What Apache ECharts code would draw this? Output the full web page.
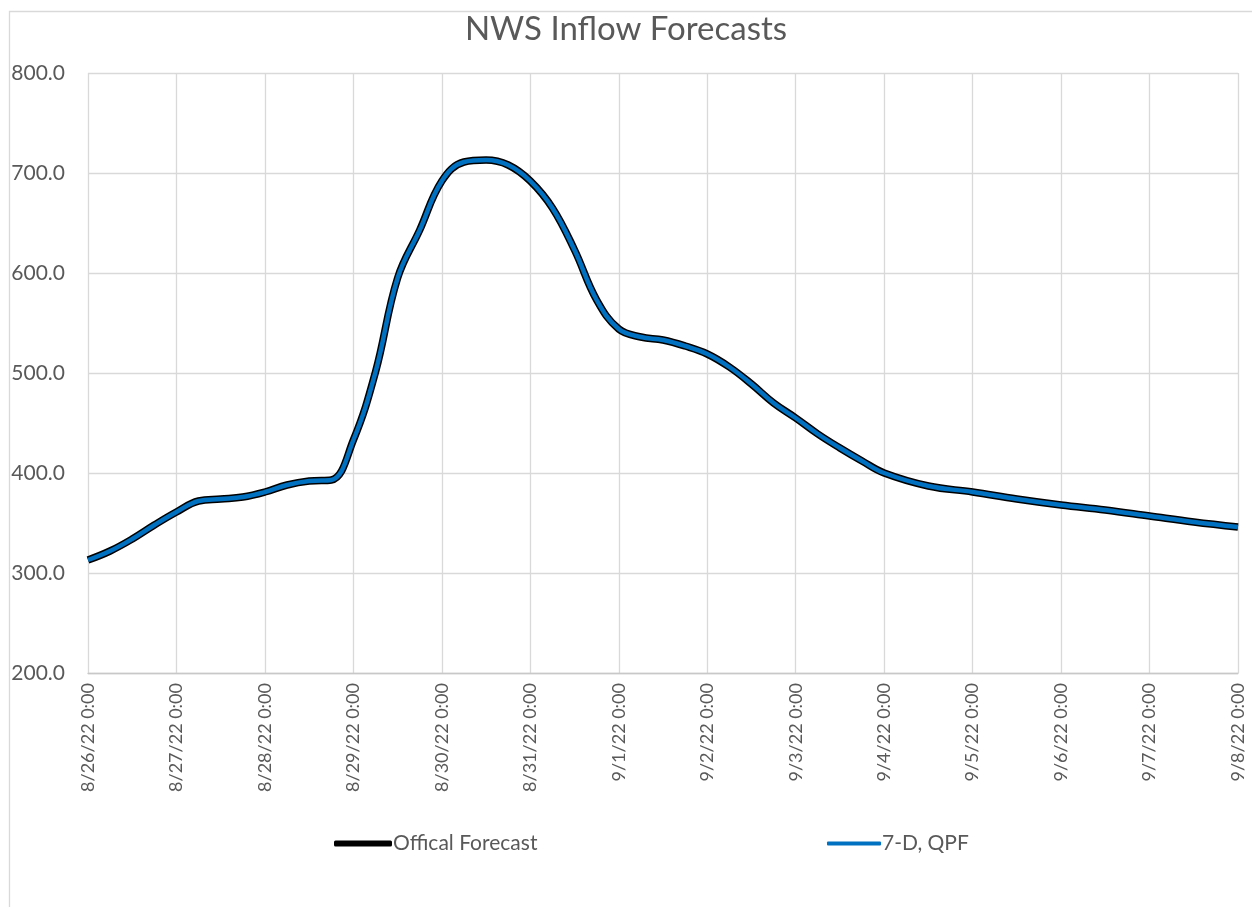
<!DOCTYPE html>
<html>
<head>
<meta charset="utf-8">
<script src="https://cdn.jsdelivr.net/npm/echarts@6/dist/echarts.min.js"></script>
<style>
html,body{margin:0;padding:0;background:#fff;}
#chart{width:1252px;height:907px;}
</style>
</head>
<body>
<div id="chart"></div>
<script>
// Tick labels (one per day, every 24 hours from 8/26/22 0:00)
const dayLabels = ['8/26/22 0:00','8/27/22 0:00','8/28/22 0:00','8/29/22 0:00','8/30/22 0:00','8/31/22 0:00','9/1/22 0:00','9/2/22 0:00','9/3/22 0:00','9/4/22 0:00','9/5/22 0:00','9/6/22 0:00','9/7/22 0:00','9/8/22 0:00'];
// Hours since 8/26/22 0:00
const hours = [0,6,12,18,24,30,36,42,48,54,60,66,72,78,84,90,96,102,108,114,120,126,132,138,144,150,156,162,168,174,180,186,192,198,204,210,216,228,240,252,264,276,288,300,312];
// Inflow values
const official = [313,322,334,348,361,372,374,376,381,388,392,393,433,501,595,643,692,711,713,708,692,665,623,573,544,536,533,527,519,506,489,470,455,439,425,412,400,387,381,374,368,363,357,351,346];
const qpf7d = [313,322,334,348,361,372,374,376,381,388,392,393,433,501,595,643,692,711,713,708,692,665,623,573,544,536,533,527,519,506,489,470,455,439,425,412,400,387,381,374,368,363,357,351,346];

const FONT = 'Lato';
const TXT = '#595959';
const chart = echarts.init(document.getElementById('chart'));
chart.setOption({
  animation:false,
  backgroundColor:'#fff',
  title:{text:'NWS Inflow Forecasts',left:'center',top:8,textStyle:{fontFamily:FONT,fontSize:33,fontWeight:'normal',color:TXT}},
  graphic:[{type:'rect',left:7,top:9,shape:{width:1400,height:1000},style:{fill:'none',stroke:'#d9d9d9',lineWidth:1.3},silent:true}],
  legend:[
    {data:[{name:'Offical Forecast',icon:'roundRect',itemStyle:{color:'#000'}}],left:329,top:828,itemWidth:58,itemHeight:6,itemGap:2,
     textStyle:{fontFamily:FONT,fontSize:21,color:TXT,padding:[0,0,0,-4]}},
    {data:[{name:'7-D, QPF',icon:'roundRect',itemStyle:{color:'#0070C0'}}],left:822,top:828,itemWidth:54,itemHeight:4,itemGap:2,
     textStyle:{fontFamily:FONT,fontSize:21,color:TXT,padding:[0,0,0,-4]}}
  ],
  grid:{left:88,right:14,top:73,bottom:234,containLabel:false},
  xAxis:{type:'value',min:0,max:312,interval:24,
    axisLine:{show:true,lineStyle:{color:'#c8c8c8',width:1.3}},
    axisTick:{show:false},
    splitLine:{show:true,lineStyle:{color:'#d9d9d9',width:1.3}},
    axisLabel:{rotate:90,margin:10,fontFamily:FONT,fontSize:18,color:TXT,
      formatter:v=>dayLabels[Math.round(v/24)]}},
  yAxis:{type:'value',min:200,max:800,interval:100,
    axisLine:{show:false},axisTick:{show:false},
    splitLine:{show:true,lineStyle:{color:'#d9d9d9',width:1.3}},
    axisLabel:{margin:23,fontFamily:FONT,fontSize:21,color:TXT,formatter:v=>v.toFixed(1)}},
  series:[
    {name:'Offical Forecast',type:'line',data:hours.map((h,i)=>[h,official[i]]),smooth:0.4,showSymbol:false,symbol:'none',
     lineStyle:{color:'#000',width:7.5},itemStyle:{color:'#000'},z:2},
    {name:'7-D, QPF',type:'line',data:hours.map((h,i)=>[h,qpf7d[i]]),smooth:0.4,showSymbol:false,symbol:'none',
     lineStyle:{color:'#0070C0',width:4.5},itemStyle:{color:'#0070C0'},z:3}
  ]
});
</script>
</body>
</html>
